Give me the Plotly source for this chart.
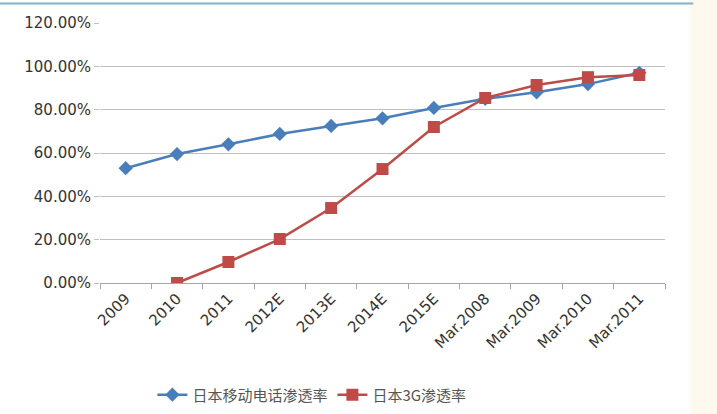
import plotly.graph_objects as go

categories = ["2009", "2010", "2011", "2012E", "2013E", "2014E", "2015E",
              "Mar.2008", "Mar.2009", "Mar.2010", "Mar.2011"]
mobile_rate = [0.53, 0.595, 0.64, 0.688, 0.725, 0.76, 0.808,
               0.85, 0.88, 0.918, 0.97]
rate_3g = [None, 0.0, 0.097, 0.203, 0.346, 0.526, 0.72,
           0.854, 0.914, 0.95, 0.96]

blue = "#4A7EBB"
red = "#BE4B48"

fig = go.Figure()
fig.add_trace(go.Scatter(
    x=categories, y=mobile_rate, name="日本移动电话渗透率",
    mode="lines+markers",
    line=dict(color=blue, width=2.5),
    marker=dict(symbol="diamond", size=11, color=blue),
))
fig.add_trace(go.Scatter(
    x=categories, y=rate_3g, name="日本3G渗透率",
    mode="lines+markers",
    line=dict(color=red, width=2.5),
    marker=dict(symbol="square", size=12, color=red),
))

# thin teal rule across the top and a cream strip at the right edge
fig.add_shape(type="line", xref="paper", yref="paper",
              x0=-0.18, x1=1.05, y0=1.075, y1=1.075,
              line=dict(color="#7FB3C8", width=2))
fig.add_shape(type="rect", xref="paper", yref="paper",
              x0=1.045, x1=1.2, y0=-0.6, y1=1.2,
              fillcolor="#FDF9EE", line=dict(width=0), layer="below")

tick_font = dict(family="DejaVu Sans, Liberation Sans, sans-serif", size=15, color="#333333")

fig.update_layout(
    width=717, height=414,
    margin=dict(l=100, r=52, t=23, b=131, autoexpand=False),
    paper_bgcolor="white", plot_bgcolor="white",
    font=dict(family="DejaVu Sans, sans-serif", size=15, color="#333333"),
    showlegend=True,
    legend=dict(orientation="h", x=0.375, xanchor="center",
                yref="container", y=0.046, yanchor="middle",
                font=dict(family="Noto Sans CJK SC", size=15, color="#555555"),
                itemwidth=30),
    xaxis=dict(
        type="category", range=[-0.5, 10.5], tickangle=-45, automargin=False,
        showline=True, linecolor="#A6A6A6", linewidth=1,
        ticks="outside", ticklen=5, tickcolor="#A6A6A6",
        tickson="boundaries", showgrid=False,
        tickfont=tick_font,
    ),
    yaxis=dict(
        range=[0, 1.2], dtick=0.2, tickformat=".2%", automargin=False,
        showgrid=True, gridcolor="#BFBFBF", gridwidth=1,
        zeroline=False, showline=False,
        ticks="outside", ticklen=5, tickcolor="#BFBFBF",
        tickfont=tick_font,
    ),
)

fig.write_html("out.html")
